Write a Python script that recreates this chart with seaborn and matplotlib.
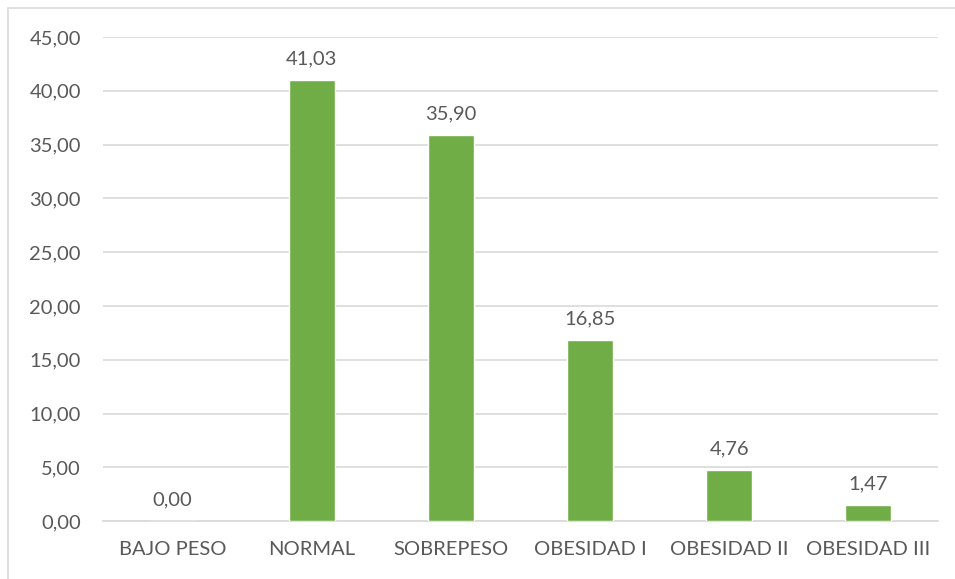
import matplotlib
matplotlib.use("Agg")
import matplotlib.pyplot as plt
import seaborn as sns
import pandas as pd
from matplotlib.patches import Rectangle

# Data
categories = ["BAJO PESO", "NORMAL", "SOBREPESO", "OBESIDAD I", "OBESIDAD II", "OBESIDAD III"]
values = [0.00, 41.03, 35.90, 16.85, 4.76, 1.47]
y_ticks = [0, 5, 10, 15, 20, 25, 30, 35, 40, 45]

df = pd.DataFrame({"cat": categories, "val": values})

sns.set_style("white")
plt.rcParams['font.family'] = ['Lato', 'DejaVu Sans']
text_color = "#595959"
fs = 14.5

fig = plt.figure(figsize=(9.55, 5.79), dpi=100)
ax = fig.add_axes([0.108, 0.100, 0.874, 0.836])

sns.barplot(data=df, x="cat", y="val", color="#70AD47", width=0.33,
            saturation=1, ax=ax, zorder=3)

# Value labels above bars
for i, v in enumerate(values):
    ax.annotate(f"{v:.2f}".replace(".", ","), (i, v), xytext=(0, 9),
                textcoords="offset points", ha="center", va="bottom",
                fontsize=fs, color=text_color)

ax.set_ylim(0, 45)
ax.set_yticks(y_ticks)
ax.set_yticklabels([f"{t:.2f}".replace(".", ",") for t in y_ticks])
ax.set_xlim(-0.5, len(categories) - 0.5)
ax.yaxis.grid(True, color="#D9D9D9", linewidth=1.2, zorder=0)
ax.set_axisbelow(True)
for side in ["left", "right", "top"]:
    ax.spines[side].set_visible(False)
ax.spines["bottom"].set_color("#D9D9D9")
ax.spines["bottom"].set_linewidth(1.2)
ax.tick_params(axis="both", length=0, labelsize=fs, labelcolor=text_color)
ax.tick_params(axis="y", pad=16)
ax.tick_params(axis="x", pad=14)
ax.set_xlabel("")
ax.set_ylabel("")

# Chart border (Excel style)
fig.patches.append(Rectangle((8 / 955, -0.05), 1.1, 1.05 - 8 / 579,
                             transform=fig.transFigure, fill=False,
                             edgecolor="#D9D9D9", linewidth=1.2))

fig.savefig("out.png", dpi=100)
